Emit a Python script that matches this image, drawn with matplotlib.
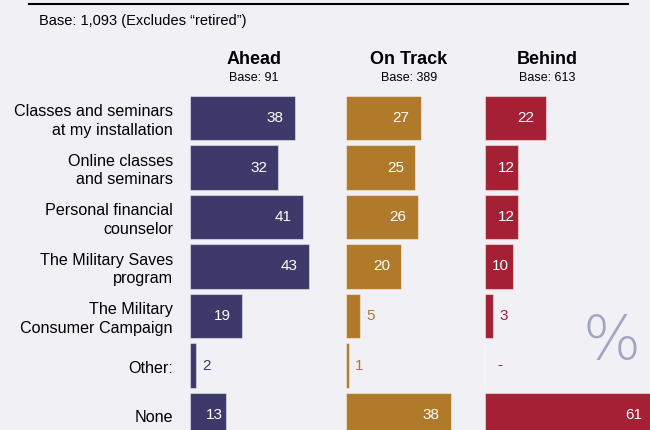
import matplotlib
matplotlib.use("Agg")
import matplotlib.pyplot as plt

plt.rcParams['font.family'] = ['Liberation Sans', 'DejaVu Sans']

categories = ["Classes and seminars\nat my installation", "Online classes\nand seminars",
              "Personal financial\ncounselor", "The Military Saves\nprogram",
              "The Military\nConsumer Campaign", "Other:", "None"]
groups = ["Ahead", "On Track", "Behind"]
bases = ["Base: 91", "Base: 389", "Base: 613"]
ahead = [38, 32, 41, 43, 19, 2, 13]
on_track = [27, 25, 26, 20, 5, 1, 38]
behind = [22, 12, 12, 10, 3, 0, 61]
series = [ahead, on_track, behind]
colors = ["#3D3A6B", "#B07A2A", "#A52035"]

W, H = 650, 430
bg = "#F0F0F5"
fig = plt.figure(figsize=(W / 100, H / 100), dpi=100, facecolor=bg)

px_per_unit = 2.76
row_px = 49.5
first_row_px = 118
ylim_top = -0.5
ylim_bot = (H - first_row_px) / row_px
ax_top_px = first_row_px - 0.5 * row_px
panel_left = [190, 346, 485]
panel_right = [346, 485, 650]
header_x = [254, 409, 547]

for k, (vals, col) in enumerate(zip(series, colors)):
    l, r = panel_left[k], panel_right[k]
    ax = fig.add_axes([l / W, 0, (r - l) / W, (H - ax_top_px) / H])
    ax.set_facecolor('none')
    ax.set_xlim(0, (r - l) / px_per_unit)
    ax.set_ylim(ylim_bot, ylim_top)
    ax.axis('off')
    ypos = list(range(len(categories)))
    ax.barh(ypos, vals, height=0.89, color=col, edgecolor=(1, 1, 1, 0.45), linewidth=0.8)
    for y, v in zip(ypos, vals):
        if v == 0:
            ax.annotate("-", (0, y), xytext=(9, 0), textcoords='offset points',
                        ha='left', va='center', color=col, fontsize=11,
                        annotation_clip=False)
        elif v <= 5:
            ax.annotate(str(v), (v, y), xytext=(4.5, 0), textcoords='offset points',
                        ha='left', va='center', color=col, fontsize=11,
                        annotation_clip=False)
        else:
            pad = 8 if v >= 15 else 2.5
            ax.annotate(str(v), (v, y), xytext=(-pad, 0), textcoords='offset points',
                        ha='right', va='center', color='white', fontsize=11,
                        annotation_clip=False)
    fig.text(header_x[k] / W, 1 - 59 / H, groups[k], ha='center', va='center',
             fontsize=13, fontweight='bold', color='black')
    fig.text(header_x[k] / W, 1 - 78 / H, bases[k], ha='center', va='center',
             fontsize=9, color='black')

for i, c in enumerate(categories):
    fig.text(173 / W, 1 - (first_row_px + 3 + i * row_px) / H, c, ha='right', va='center',
             multialignment='right', fontsize=11.6, color='black', linespacing=1.28)

fig.text(39 / W, 1 - 21 / H, "Base: 1,093 (Excludes \u201cretired\u201d)", ha='left',
         va='center', fontsize=10.5, color='black')
fig.add_artist(plt.Line2D([29 / W, 628 / W], [1 - 3.5 / H, 1 - 3.5 / H], color='black', lw=1.5))
fig.text(612 / W, 1 - 343 / H, "%", ha='center', va='center', fontsize=44,
         color='#A3A3C2', fontfamily=['DejaVu Sans'], fontweight='light')

fig.savefig("out.png", dpi=100, facecolor=bg)
